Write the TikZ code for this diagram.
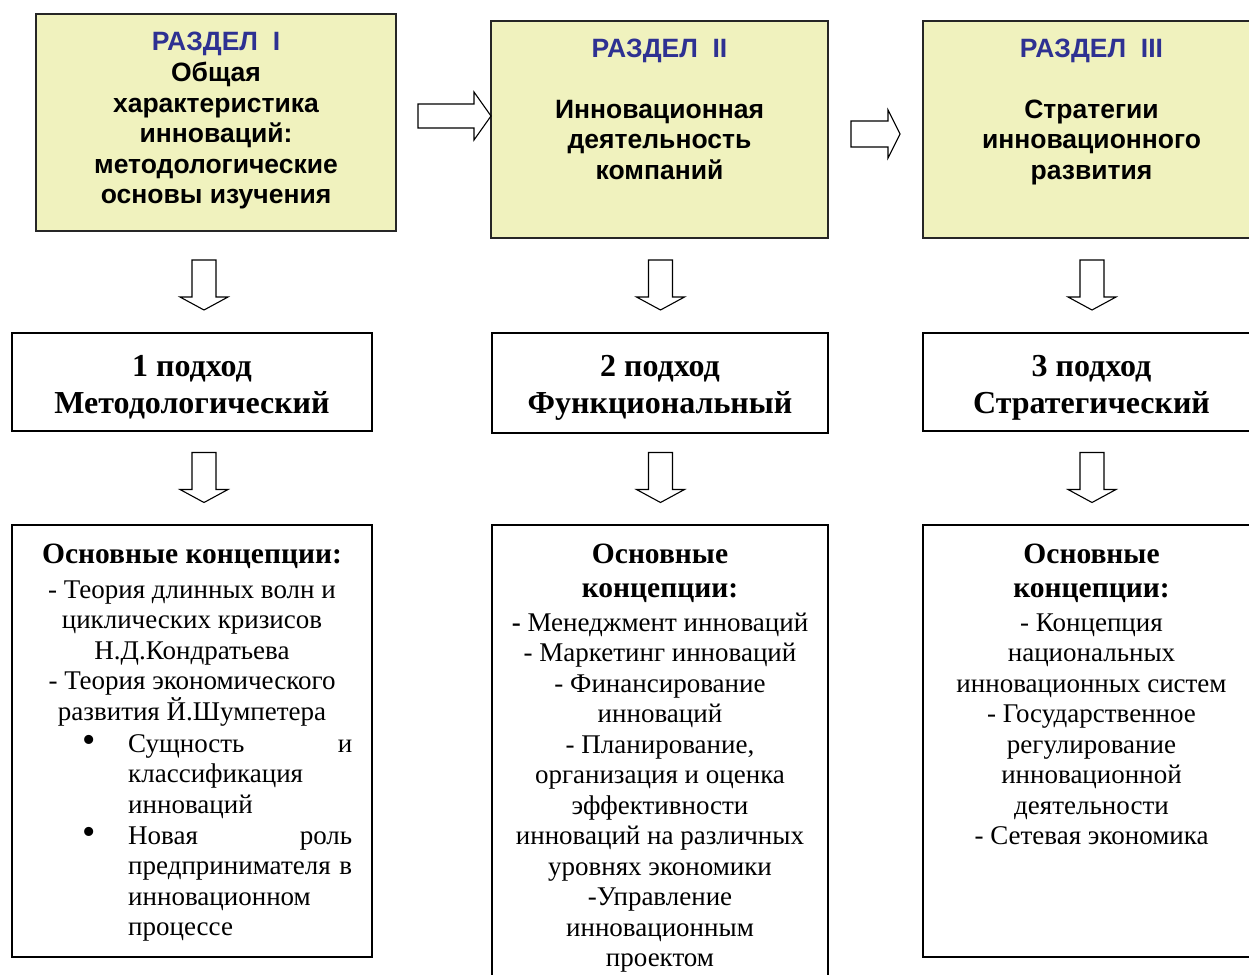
\documentclass[tikz,border=0pt]{standalone}
\usepackage{fontspec}
\setmainfont{Liberation Serif}
\newfontfamily\headfont{Liberation Sans}
\definecolor{secfill}{RGB}{240,242,190}
\definecolor{secblue}{RGB}{46,49,146}
\newcommand{\tops}[1]{\rule{0pt}{#1}}
\newcommand{\conhead}[1]{{\fontsize{29.5}{30.5}\selectfont\bfseries #1}}
\newcommand{\bigbullet}{{\fontsize{38}{30.6}\selectfont\textbullet}}
\tikzset{
  secbox/.style={draw=black!85, line width=1.3pt, fill=secfill, inner sep=0pt},
  appbox/.style={draw=black, line width=1.6pt, inner sep=0pt},
  conbox/.style={draw=black, line width=1.6pt, inner sep=0pt},
  sectext/.style={anchor=north, align=center, inner sep=0pt,
    font=\headfont\bfseries\fontsize{26.5}{30.5}\selectfont},
  apptext/.style={anchor=north, align=center, inner sep=0pt,
    font=\bfseries\fontsize{32}{37}\selectfont},
  context/.style={anchor=north, align=center, inner sep=0pt,
    font=\fontsize{27}{30.5}\selectfont},
  listtext/.style={anchor=north west, align=left, inner sep=0pt,
    font=\fontsize{27}{30.6}\selectfont},
  blockarrow/.style={draw=black, line width=1.1pt, fill=white, line join=miter}
}
\begin{document}
\begin{tikzpicture}[x=1pt, y=-1pt]
\clip (0,0) rectangle (1249,974);
\fill[white] (0,0) rectangle (1249,974);

% --- section boxes ---
\node[secbox, minimum width=360, minimum height=217] (s1) at (216,122.5) {};
\node[secbox, minimum width=337, minimum height=217] (s2) at (659.5,129.5) {};
\node[secbox, minimum width=337, minimum height=217] (s3) at (1091.5,129.5) {};

\node[sectext] (s1t) at (216,25) {\tops{25pt}{\color{secblue}РАЗДЕЛ~~I}\\[1pt]
  Общая\\характеристика\\инноваций:\\методологические\\основы изучения};
\node[sectext] (s2t) at (659.5,32) {\tops{25pt}{\color{secblue}РАЗДЕЛ~~II}\\[30.5pt]
  Инновационная\\деятельность\\компаний};
\node[sectext] (s3t) at (1091.5,32) {\tops{25pt}{\color{secblue}РАЗДЕЛ~~III}\\[30.5pt]
  Стратегии\\инновационного\\развития};

% --- arrows between sections ---
\coordinate (ra1) at (454.5,116);
\coordinate (ra2) at (875.5,134);
\draw[blockarrow, shift={(ra1)}] (-36.5,-12) -- (19.5,-12) -- (19.5,-24) -- (36.5,0)
  -- (19.5,24) -- (19.5,12) -- (-36.5,12) -- cycle;
\draw[blockarrow, shift={(ra2)}] (-24.5,-13) -- (12.5,-13) -- (12.5,-24) -- (24.5,0)
  -- (12.5,24) -- (12.5,13) -- (-24.5,13) -- cycle;

% --- approach boxes ---
\node[appbox, minimum width=360, minimum height=98] (a1) at (192,382) {};
\node[appbox, minimum width=336, minimum height=100] (a2) at (660,383) {};
\node[appbox, minimum width=337, minimum height=98] (a3) at (1091.5,382) {};

\node[apptext] (a1t) at (192,348) {\tops{28pt}1 подход\\Методологический};
\node[apptext] (a2t) at (660,348) {\tops{28pt}2 подход\\Функциональный};
\node[apptext] (a3t) at (1091.5,348) {\tops{28pt}3 подход\\Стратегический};

% --- concept boxes ---
\node[conbox, minimum width=360, minimum height=432] (c1) at (192,741) {};
\node[conbox, minimum width=336, minimum height=480] (c2) at (660,765) {};
\node[conbox, minimum width=337, minimum height=432] (c3) at (1091.5,741) {};

\node[context] (c1t) at (192,537) {\tops{26pt}\conhead{Основные концепции:}\\[4.5pt]
  - Теория длинных волн и\\циклических кризисов\\Н.Д.Кондратьева\\
  - Теория экономического\\развития Й.Шумпетера};
\node[listtext] (c1l) at (82,727) {\tops{25pt}\makebox[46pt][l]{\bigbullet}\makebox[224pt][s]{Сущность\hfill и}\\
  \hspace*{46pt}классификация\\
  \hspace*{46pt}инноваций\\
  \makebox[46pt][l]{\bigbullet}\makebox[224pt][s]{Новая\hfill роль}\\
  \hspace*{46pt}\makebox[224pt][s]{предпринимателя\hfill в}\\
  \hspace*{46pt}инновационном\\
  \hspace*{46pt}процессе};

\node[context] (c2t) at (660,537) {\tops{26pt}\conhead{Основные}\\[4pt]\conhead{концепции:}\\[3pt]
  \textbf{-} Менеджмент инноваций\\- Маркетинг инноваций\\- Финансирование\\инноваций\\
  - Планирование,\\организация и оценка\\эффективности\\инноваций на различных\\
  уровнях экономики\\-Управление\\инновационным\\проектом};

\node[context] (c3t) at (1091.5,537) {\tops{26pt}\conhead{Основные}\\[4pt]\conhead{концепции:}\\[3pt]
  - Концепция\\национальных\\инновационных систем\\- Государственное\\
  регулирование\\инновационной\\деятельности\\- Сетевая экономика};

% --- downward arrows ---
\coordinate (d1) at (204,285);
\coordinate (d2) at (660.5,285);
\coordinate (d3) at (1092,285);
\coordinate (e1) at (204,477.5);
\coordinate (e2) at (660.5,477.5);
\coordinate (e3) at (1092,477.5);
\foreach \p in {d1,d2,d3,e1,e2,e3}{
  \draw[blockarrow, shift={(\p)}] (-12,-25) -- (12,-25) -- (12,12) -- (24,12)
    -- (0,25) -- (-24,12) -- (-12,12) -- cycle;
}
\end{tikzpicture}
\end{document}
